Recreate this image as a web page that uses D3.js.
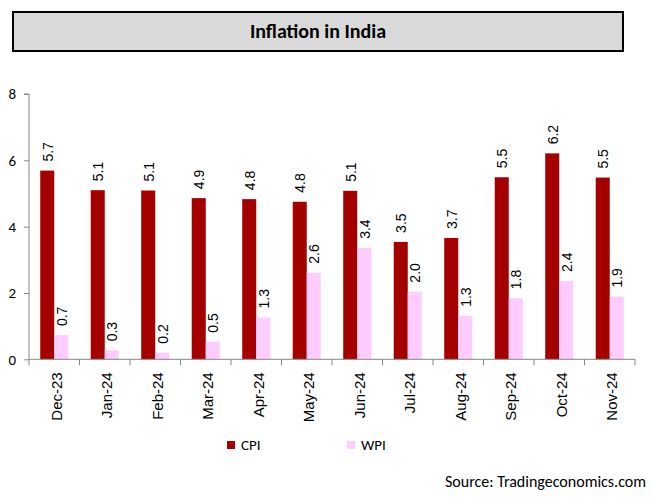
<!DOCTYPE html>
<html>
<head>
<meta charset="utf-8">
<script src="https://cdn.jsdelivr.net/npm/d3@7"></script>
<style>
  html, body { margin: 0; padding: 0; background: #ffffff; }
  svg { display: block; }
</style>
</head>
<body>
<svg id="chart" width="653" height="497"></svg>
<script>
const months = ["Dec-23","Jan-24","Feb-24","Mar-24","Apr-24","May-24","Jun-24","Jul-24","Aug-24","Sep-24","Oct-24","Nov-24"];
const cpi = [5.69, 5.10, 5.09, 4.86, 4.83, 4.75, 5.08, 3.54, 3.66, 5.49, 6.21, 5.48];
const wpi = [0.73, 0.27, 0.20, 0.53, 1.26, 2.61, 3.36, 2.04, 1.31, 1.84, 2.36, 1.89];
const seriesNames = ["CPI", "WPI"];
const seriesColors = ["#a50000", "#ffccff"];
const yTicks = [0, 2, 4, 6, 8];
const titleText = "Inflation in India";
const sourceText = "Source: Tradingeconomics.com";

const svg = d3.select("#chart");
const calibri = "Carlito, Calibri, Lato, 'Open Sans', sans-serif";
const arial = "'Liberation Sans', Arial, sans-serif";

// Title box
svg.append("rect").attr("x", 13).attr("y", 12).attr("width", 610).attr("height", 39)
  .attr("fill", "#d9d9d9").attr("stroke", "#000").attr("stroke-width", 2);
svg.append("text").attr("x", 318).attr("y", 38).attr("text-anchor", "middle")
  .attr("font-family", calibri).attr("font-weight", 900).attr("font-size", 20)
  .attr("fill", "#000").text(titleText);

const x0 = d3.scaleBand().domain(months).range([29, 635]).paddingInner(0).paddingOuter(0);
const x1 = d3.scaleBand().domain(seriesNames).range([0, x0.bandwidth()]).paddingInner(0).paddingOuter(0.80);
const y = d3.scaleLinear().domain([0, 8]).range([359.3, 94]);

const data = months.map((m, i) => ({ m, vals: [cpi[i], wpi[i]] }));

// bars
const groups = svg.append("g").selectAll("g").data(data).join("g")
  .attr("transform", d => `translate(${x0(d.m)},0)`);
groups.selectAll("rect").data(d => d.vals.map((v, k) => ({ k, v }))).join("rect")
  .attr("x", d => x1(seriesNames[d.k]))
  .attr("width", x1.bandwidth())
  .attr("y", d => y(d.v))
  .attr("height", d => y(0) - y(d.v))
  .attr("fill", d => seriesColors[d.k]);

// value labels
groups.selectAll("text").data(d => d.vals.map((v, k) => ({ k, v }))).join("text")
  .attr("transform", d => `translate(${x1(seriesNames[d.k]) + x1.bandwidth() / 2 + 0.5},${y(d.v) - 9}) rotate(-90)`)
  .attr("dy", "0.35em")
  .attr("font-family", arial).attr("font-size", 14).attr("fill", "#000")
  .text(d => d.v.toFixed(1));

// y axis
const yAxis = d3.axisLeft(y).tickValues(yTicks).tickSize(5).tickPadding(8).tickFormat(d3.format("d"));
const gy = svg.append("g").attr("transform", "translate(29,0)").call(yAxis);
gy.select(".domain").attr("stroke", "#868686").attr("d", `M-5,${y(8)}H0V${y(0)}`);
gy.selectAll(".tick line").attr("stroke", "#868686");
gy.selectAll(".tick text").attr("font-family", calibri).attr("font-size", 15).attr("fill", "#000");

// x axis
const gx = svg.append("g").attr("transform", `translate(0,${y(0)})`);
gx.append("line").attr("x1", 29).attr("x2", 635).attr("y1", 0).attr("y2", 0).attr("stroke", "#868686");
const boundaries = months.map(m => x0(m)).concat([x0(months[months.length - 1]) + x0.bandwidth()]);
gx.selectAll("line.tk").data(boundaries).join("line").attr("class", "tk")
  .attr("x1", d => d).attr("x2", d => d).attr("y1", 0).attr("y2", 6).attr("stroke", "#868686");
gx.selectAll("text").data(months).join("text")
  .attr("transform", d => `translate(${x0(d) + x0.bandwidth() / 2 + 2},13) rotate(-90)`)
  .attr("dy", "0.35em").attr("text-anchor", "end")
  .attr("font-family", arial).attr("font-size", 15).attr("fill", "#000")
  .text(d => d);

// legend
const legendX = [227, 347];
const lg = svg.append("g").selectAll("g").data(seriesNames).join("g")
  .attr("transform", (d, i) => `translate(${legendX[i]},441)`);
lg.append("rect").attr("width", 8).attr("height", 8).attr("fill", (d, i) => seriesColors[i]);
lg.append("text").attr("x", 14).attr("y", 4).attr("dy", "0.35em")
  .attr("font-family", calibri).attr("font-size", 15).attr("fill", "#000").text(d => d);

// source
svg.append("text").attr("x", 646).attr("y", 487).attr("text-anchor", "end")
  .attr("font-family", calibri).attr("font-size", 16).attr("fill", "#000").text(sourceText);
</script>
</body>
</html>
